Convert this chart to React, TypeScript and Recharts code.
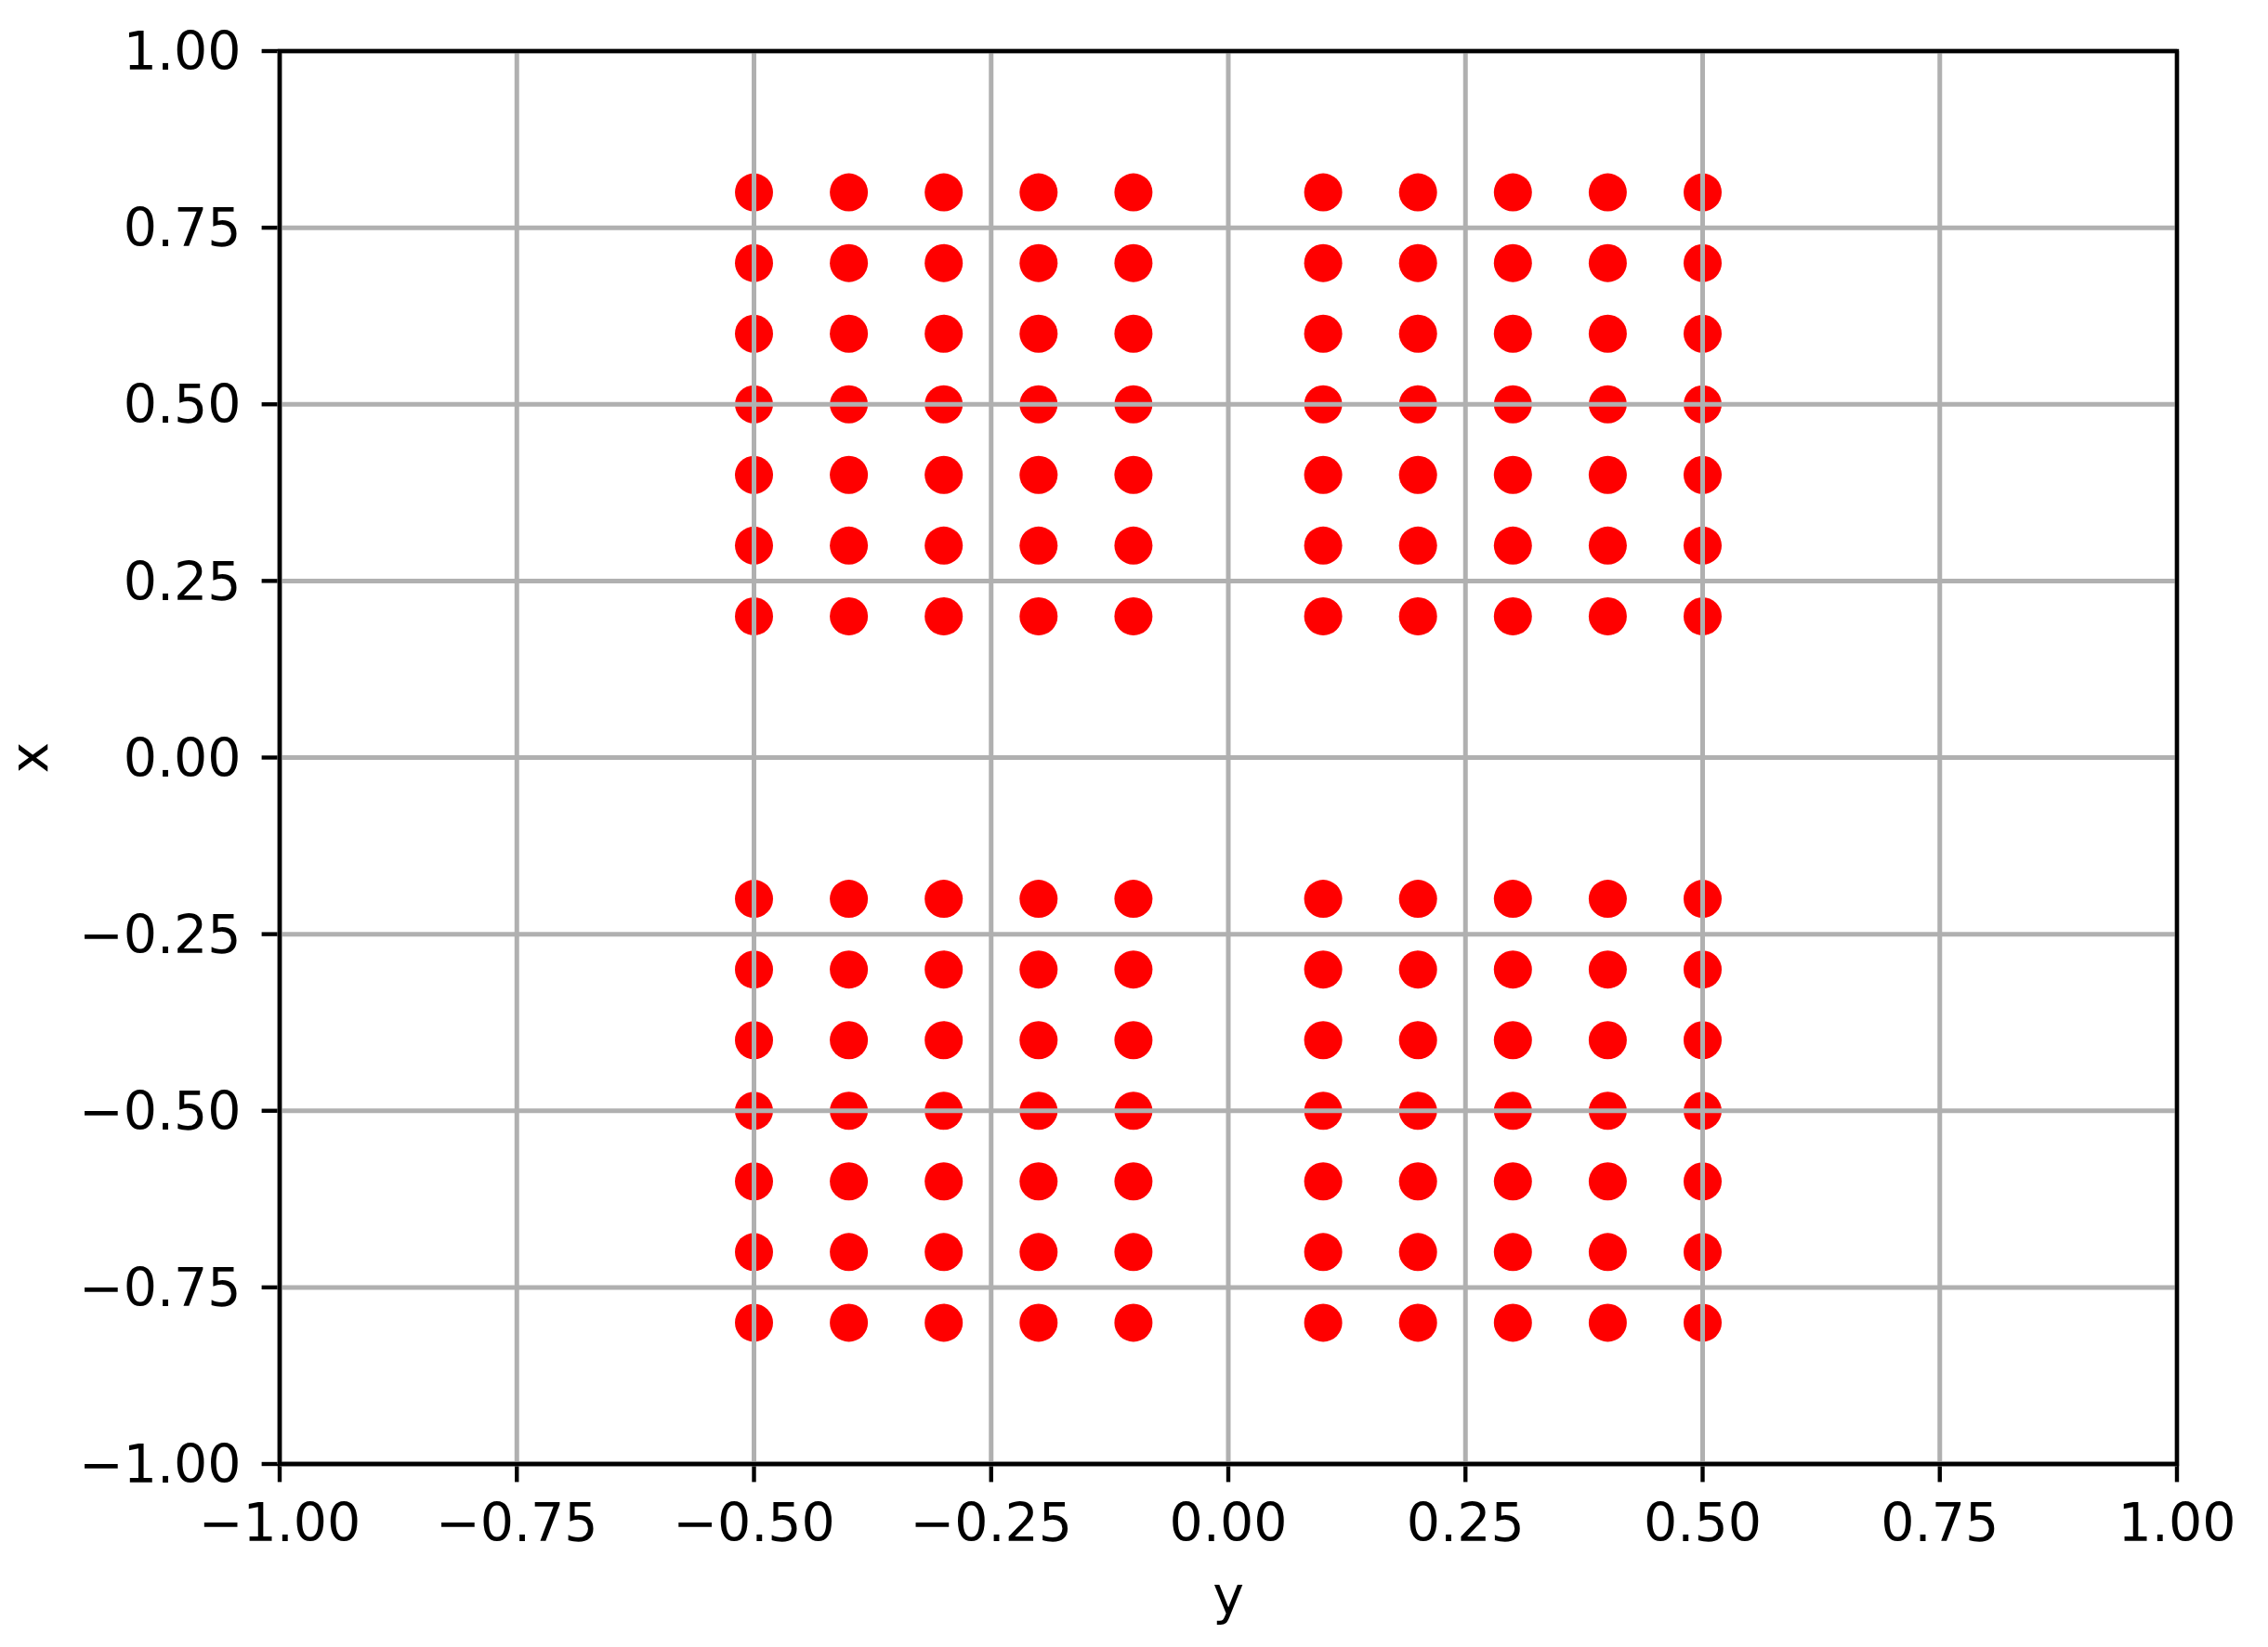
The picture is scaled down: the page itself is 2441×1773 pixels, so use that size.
import { ScatterChart, Scatter, XAxis, YAxis, CartesianGrid, ReferenceArea } from 'recharts';

// horizontal positions (axis labelled "y")
const yValues = [-0.5, -0.4, -0.3, -0.2, -0.1, 0.1, 0.2, 0.3, 0.4, 0.5];
// vertical positions (axis labelled "x")
const xValues = [0.8, 0.7, 0.6, 0.5, 0.4, 0.3, 0.2, -0.2, -0.3, -0.4, -0.5, -0.6, -0.7, -0.8];
const axisTicks = [-1, -0.75, -0.5, -0.25, 0, 0.25, 0.5, 0.75, 1];

const points = xValues.flatMap((x) => yValues.map((y) => ({ y, x })));

const FONT = 'DejaVu Sans, sans-serif';
const FONT_SIZE = 57;
const LINE_W = 4.4;

const fmt = (v: number) => (v < 0 ? '\u2212' : '') + Math.abs(v).toFixed(2);

const Dot = (props: any) => <circle cx={props.cx} cy={props.cy} r={20.5} fill="#ff0000" />;

const YLabel = (props: any) => {
  const vb = props.viewBox || { x: 0, y: 0, width: 0, height: 0 };
  const cx = vb.x - 26;
  const cy = vb.y + vb.height / 2;
  return (
    <text
      x={cx}
      y={cy}
      dy={15.6}
      transform={`rotate(-90 ${cx} ${cy})`}
      textAnchor="middle"
      fontFamily={FONT}
      fontSize={FONT_SIZE}
      fill="#000"
    >
      x
    </text>
  );
};

export default function App() {
  return (
    <div style={{ position: 'absolute', left: 0, top: 0, background: '#fff' }}>
      <ScatterChart
        width={2441}
        height={1773}
        margin={{ top: 55, right: 98, left: 61, bottom: 31 }}
      >
        <XAxis
          type="number"
          dataKey="y"
          domain={[-1, 1]}
          ticks={axisTicks}
          tickFormatter={fmt}
          allowDataOverflow
          stroke="#000"
          axisLine={{ stroke: '#000', strokeWidth: LINE_W }}
          tickLine={{ stroke: '#000', strokeWidth: LINE_W }}
          tickSize={19.4}
          tickMargin={23.5}
          tick={{ fill: '#000', fontSize: FONT_SIZE, fontFamily: FONT }}
          height={166}
          interval={0}
          label={{ value: 'y', position: 'insideBottom', offset: 5, fill: '#000', fontSize: FONT_SIZE, fontFamily: FONT }}
        />
        <YAxis
          type="number"
          dataKey="x"
          domain={[-1, 1]}
          ticks={axisTicks}
          tickFormatter={fmt}
          allowDataOverflow
          stroke="#000"
          axisLine={{ stroke: '#000', strokeWidth: LINE_W }}
          tickLine={{ stroke: '#000', strokeWidth: LINE_W }}
          tickSize={19.4}
          tickMargin={22}
          tick={{ fill: '#000', fontSize: FONT_SIZE, fontFamily: FONT }}
          width={240}
          interval={0}
          label={YLabel}
        />
        <Scatter data={points} shape={Dot} isAnimationActive={false} />
        <CartesianGrid stroke="#b0b0b0" strokeWidth={5} zIndex={700} />
        <ReferenceArea
          x1={-1}
          x2={1}
          y1={-1}
          y2={1}
          fill="none"
          fillOpacity={0}
          stroke="#000"
          strokeWidth={LINE_W}
          zIndex={800}
        />
      </ScatterChart>
    </div>
  );
}
